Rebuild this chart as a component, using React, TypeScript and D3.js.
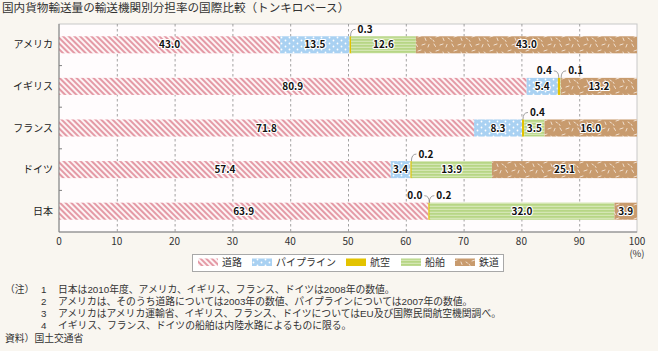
import React from "react";
import * as d3 from "d3";

const title = "国内貨物輸送量の輸送機関別分担率の国際比較（トンキロベース）";
const countries = ["アメリカ", "イギリス", "フランス", "ドイツ", "日本"];
const modes = ["道路", "パイプライン", "航空", "船舶", "鉄道"];
const road = [43.0, 80.9, 71.8, 57.4, 63.9];
const pipeline = [13.5, 5.4, 8.3, 3.4, 0.0];
const air = [0.3, 0.4, 0.4, 0.2, 0.2];
const ship = [12.6, 0.1, 3.5, 13.9, 32.0];
const rail = [43.0, 13.2, 16.0, 25.1, 3.9];
const xTicks = [0, 10, 20, 30, 40, 50, 60, 70, 80, 90, 100];
const notes = [
  "日本は2010年度、アメリカ、イギリス、フランス、ドイツは2008年の数値。",
  "アメリカは、そのうち道路については2003年の数値、パイプラインについては2007年の数値。",
  "アメリカはアメリカ運輸省、イギリス、フランス、ドイツについてはEU及び国際民間航空機関調べ。",
  "イギリス、フランス、ドイツの船舶は内陸水路によるものに限る。",
];
const source = "資料）国土交通省";

// which small segments get labels outside the bar (country index, mode index, side)
const outside: { c: number; m: number; dir: number }[] = [
  { c: 0, m: 2, dir: 1 },
  { c: 1, m: 2, dir: -1 },
  { c: 1, m: 3, dir: 1 },
  { c: 2, m: 2, dir: 1 },
  { c: 3, m: 2, dir: 1 },
  { c: 4, m: 1, dir: -1 },
  { c: 4, m: 2, dir: 1 },
];

const FONT = "'Noto Sans CJK JP', 'Noto Sans', sans-serif";
const NOTE_FONT = "'Liberation Sans', 'Noto Sans CJK JP', sans-serif";

export default function App() {
  const W = 658, H = 351;
  const left = 59, right = 637, top = 24, bottom = 232;
  const x = d3.scaleLinear().domain([0, 100]).range([left, right]);
  const y = d3.scaleBand<string>().domain(countries).range([top, bottom]).paddingInner(0.59).paddingOuter(0.295);
  const series = [road, pipeline, air, ship, rail];
  const rows = countries.map((c, i) => {
    const o: any = { country: c };
    modes.forEach((m, j) => (o[m] = series[j][i]));
    return o;
  });
  const stack = d3.stack<any>().keys(modes).offset(d3.stackOffsetExpand);
  const stacked = stack(rows);
  const fills = ["url(#pRoad)", "url(#pPipe)", "#e3c300", "url(#pShip)", "url(#pRail)"];
  const bh = y.bandwidth();
  const isOutside = (c: number, m: number) => outside.some((o) => o.c === c && o.m === m);
  const noteY0 = 289, noteDy = 12.3;

  return (
    <svg width={W} height={H} style={{ position: "absolute", left: 0, top: 0 }} fontFamily={FONT}>
      <defs>
        <pattern id="pRoad" width="4" height="4" patternUnits="userSpaceOnUse" patternTransform="rotate(45)">
          <rect width="4" height="4" fill="#fdf4f5" />
          <rect width="4" height="2" fill="#e49aa6" />
        </pattern>
        <pattern id="pPipe" width="8" height="6" patternUnits="userSpaceOnUse">
          <rect width="8" height="6" fill="#a9d1f2" />
          <circle cx="1.5" cy="1.5" r="0.9" fill="#fff" />
          <circle cx="5.5" cy="4.5" r="0.9" fill="#fff" />
        </pattern>
        <pattern id="pShip" width="4" height="3" patternUnits="userSpaceOnUse">
          <rect width="4" height="3" fill="#b7d685" />
          <rect y="1.8" width="4" height="1" fill="#dcebbf" />
        </pattern>
        <pattern id="pRail" width="18" height="14" patternUnits="userSpaceOnUse">
          <rect width="18" height="14" fill="#c89b6e" />
          <g stroke="#f4e7da" strokeWidth="0.9" strokeLinecap="round">
            <line x1="2" y1="2" x2="3.5" y2="4.5" />
            <line x1="8" y1="3" x2="11" y2="2" />
            <line x1="14" y1="5" x2="15" y2="2.5" />
            <line x1="4" y1="9" x2="7" y2="8" />
            <line x1="11" y1="10" x2="12" y2="12.5" />
            <line x1="16" y1="10" x2="17.5" y2="11" />
            <line x1="1" y1="12" x2="2" y2="13.5" />
          </g>
        </pattern>
      </defs>
      <rect width={W} height={H} fill="#f9f6f0" />
      <text x={2} y={12} fontSize={11.6} fill="#333">{title}</text>
      <rect x={left} y={top} width={right - left} height={bottom - top} fill="#fffcfd" stroke="#c8c8c8" strokeWidth={1} />
      {xTicks.slice(1, -1).map((t) => (
        <line key={t} x1={x(t) + 0.5} x2={x(t) + 0.5} y1={top} y2={bottom} stroke="#8a8a8a" strokeWidth={0.8} strokeDasharray="2.5,2.5" />
      ))}
      {stacked.map((s, j) =>
        s.map((d, i) => (
          <rect key={`${j}-${i}`} x={x(d[0] * 100)} y={y(countries[i])!} width={Math.max(x(d[1] * 100) - x(d[0] * 100), j === 2 ? 2 : 0)} height={bh} fill={fills[j]} />
        ))
      )}
      {stacked.map((s, j) =>
        s.map((d, i) => {
          if (isOutside(i, j)) return null;
          const cx = (x(d[0] * 100) + x(d[1] * 100)) / 2;
          const cy = y(countries[i])! + bh / 2;
          const label = series[j][i].toFixed(1);
          return (
            <text key={`l${j}-${i}`} x={cx} y={cy} dy="0.36em" textAnchor="middle" fontSize={10} fontWeight="bold" fill="#111" stroke="#fff" strokeWidth={2.2} paintOrder="stroke" strokeLinejoin="round">{label}</text>
          );
        })
      )}
      {outside.map((o, k) => {
        const d = stacked[o.m][o.c];
        const px = x(d[0] * 100) + 1;
        const py = y(countries[o.c])!;
        const ly = py - 7;
        const ex = px + o.dir * 5;
        const path = `M${px},${py} Q${px},${ly} ${ex},${ly}`;
        return (
          <g key={`o${k}`}>
            <path d={path} fill="none" stroke="#888" strokeWidth={0.8} />
            <text x={ex + o.dir * 2} y={ly} dy="0.36em" textAnchor={o.dir > 0 ? "start" : "end"} fontSize={10} fontWeight="bold" fill="#111">{series[o.m][o.c].toFixed(1)}</text>
          </g>
        );
      })}
      <line x1={left} x2={left} y1={top} y2={bottom} stroke="#808080" strokeWidth={1} />
      <line x1={left} x2={right} y1={bottom} y2={bottom} stroke="#808080" strokeWidth={1} />
      {countries.slice(1).map((c) => (
        <line key={c} x1={left} x2={left + 3} y1={y(c)! - (y.step() - bh) / 2} y2={y(c)! - (y.step() - bh) / 2} stroke="#808080" />
      ))}
      {countries.map((c) => (
        <text key={c} x={53} y={y(c)! + bh / 2} dy="0.36em" textAnchor="end" fontSize={10} fill="#222">{c}</text>
      ))}
      {xTicks.map((t) => (
        <text key={t} x={x(t)} y={241} dy="0.36em" textAnchor="middle" fontSize={10} fill="#333">{t}</text>
      ))}
      <text x={x(100)} y={254} dy="0.36em" textAnchor="middle" fontSize={9.5} fill="#333">(%)</text>
      <rect x={192.5} y={254.5} width={311} height={17} fill="#fff" stroke="#a8a8a8" />
      {modes.map((m, j) => {
        const sx = [198, 252, 346, 401, 455][j];
        return (
          <g key={m}>
            <rect x={sx} y={258.5} width={20} height={7.5} fill={fills[j]} />
            <text x={sx + 24} y={262.5} dy="0.36em" fontSize={10} fill="#333">{m}</text>
          </g>
        );
      })}
      <g fontSize={9.8} fill="#333" fontFamily={NOTE_FONT}>
        <text x={5} y={noteY0} dy="0.36em">（注）</text>
        {notes.map((n, i) => (
          <React.Fragment key={i}>
            <text x={41} y={noteY0 + i * noteDy} dy="0.36em">{i + 1}</text>
            <text x={58} y={noteY0 + i * noteDy} dy="0.36em">{n}</text>
          </React.Fragment>
        ))}
        <text x={5} y={noteY0 + 4 * noteDy} dy="0.36em">{source}</text>
      </g>
    </svg>
  );
}
